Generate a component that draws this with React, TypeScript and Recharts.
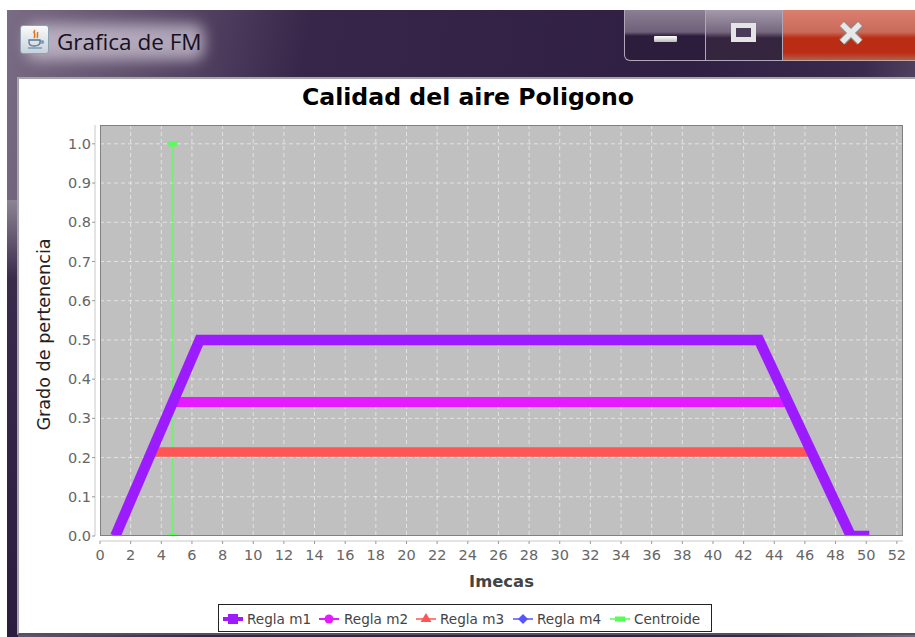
import React from 'react';
import { LineChart, Line, XAxis, YAxis, CartesianGrid, Legend } from 'recharts';

const xTicks = [0,2,4,6,8,10,12,14,16,18,20,22,24,26,28,30,32,34,36,38,40,42,44,46,48,50,52];
const yTicks = [0,0.1,0.2,0.3,0.4,0.5,0.6,0.7,0.8,0.9,1.0];
const reglaM1 = [{x:1,y:0},{x:6.5,y:0.5},{x:43,y:0.5},{x:49,y:0},{x:50.2,y:0}];
const reglaM2 = [{x:4.8,y:0.342},{x:44.9,y:0.342}];
const reglaM3 = [{x:3.4,y:0.214},{x:46.4,y:0.214}];
const reglaM4: {x:number;y:number}[] = [];
const centroide = [{x:4.75,y:0},{x:4.75,y:1}];

const PURPLE = '#9d1cff';
const MAGENTA = '#e61aff';
const RED = '#ff5555';
const BLUE = '#5555ff';
const GREEN = '#55ff55';
const SANS = '"DejaVu Sans", sans-serif';

const GreenDot = (p: any) => <rect key={p.index} x={p.cx - 4.5} y={p.cy - 2.5} width={9} height={5} fill={GREEN} />;

const legendItems = [
  { name: 'Regla m1', color: PURPLE, w: 4, iconX: 4, textX: 28, kind: 'square' },
  { name: 'Regla m2', color: MAGENTA, w: 2, iconX: 100, textX: 125, kind: 'circle' },
  { name: 'Regla m3', color: RED, w: 1.5, iconX: 197, textX: 221, kind: 'triangle' },
  { name: 'Regla m4', color: BLUE, w: 1.5, iconX: 294, textX: 318, kind: 'diamond' },
  { name: 'Centroide', color: GREEN, w: 1.5, iconX: 391, textX: 415, kind: 'rect' },
];

const LegendBox = () => (
  <svg width={494} height={28} style={{ display: 'block', background: '#fff', border: '1px solid #222', boxSizing: 'border-box' }}>
    {legendItems.map((it) => {
      const cx = it.iconX + 10, cy = 14;
      return (
        <g key={it.name}>
          <line x1={it.iconX} x2={it.iconX + 20} y1={cy} y2={cy} stroke={it.color} strokeWidth={it.w} />
          {it.kind === 'square' && <rect x={cx - 5} y={cy - 5} width={10} height={10} fill={it.color} />}
          {it.kind === 'circle' && <circle cx={cx} cy={cy} r={4.5} fill={it.color} />}
          {it.kind === 'triangle' && <polygon points={`${cx},${cy - 6} ${cx + 5.5},${cy + 3} ${cx - 5.5},${cy + 3}`} fill={it.color} />}
          {it.kind === 'diamond' && <polygon points={`${cx},${cy - 5} ${cx + 5},${cy} ${cx},${cy + 5} ${cx - 5},${cy}`} fill={it.color} />}
          {it.kind === 'rect' && <rect x={cx - 5} y={cy - 2.5} width={10} height={5} fill={it.color} />}
          <text x={it.textX} y={cy + 5} fontFamily={SANS} fontSize={13.6} fill="#444">{it.name}</text>
        </g>
      );
    })}
  </svg>
);

const abs = (l: number, t: number, w: number, h: number, extra: React.CSSProperties = {}): React.CSSProperties => ({
  position: 'absolute', left: l, top: t, width: w, height: h, ...extra,
});

const Chrome = () => (
  <>
    <div style={abs(7, 10, 908, 627, {
      background: 'linear-gradient(100deg, #7a6c84 0%, #5f4f6c 14%, #38264a 30%, #2f1f42 68%, #3a2a4c 85%, #75697f 100%)',
    })} />
    <div style={abs(7, 200, 11, 437, { background: 'linear-gradient(180deg,#8c8494 0%,#3a2a4c 18%,#2c1c40 100%)' })} />
    <div style={abs(26, 24, 178, 36, { background: 'rgba(205,198,212,0.75)', filter: 'blur(7px)', borderRadius: 10 })} />
    <div style={abs(20, 25, 29, 29, { background: 'linear-gradient(180deg,#fafafa,#c8d2dc)', border: '1px solid #8fa0b0', borderRadius: 3, boxSizing: 'border-box' })}>
      <svg width={27} height={27}>
        <path d="M14 4 C11 7 16 8 13 12 M17 6 C15 8 18 9 16 12" stroke="#e0761c" strokeWidth={1.6} fill="none" />
        <path d="M8 14 H19 V16 C19 19 16 20 13 20 C10 20 8 19 8 16 Z" fill="none" stroke="#54799a" strokeWidth={1.3} />
        <path d="M19 15 H22 V17 H19 M7 22 H21" fill="none" stroke="#54799a" strokeWidth={1.2} />
      </svg>
    </div>
    <div style={abs(57, 26, 170, 32, { fontFamily: '"Open Sans", sans-serif', fontSize: 22.5, lineHeight: '32px', color: '#16101e', whiteSpace: 'nowrap' })}>Grafica de FM</div>

    <div style={abs(624, 10, 82, 51, { background: 'linear-gradient(180deg,#8b7f94 0%,#6e6078 44%,#2d1d3d 52%,#2d1d3d 100%)', border: '1px solid #b0a8b8', borderTop: 0, borderRadius: '0 0 0 6px', boxSizing: 'border-box' })} />
    <div style={abs(706, 10, 77, 51, { background: 'linear-gradient(180deg,#a49aac 0%,#75687f 44%,#35253f 56%,#35253f 100%)', borderBottom: '1px solid #b0a8b8', borderRight: '1px solid #b0a8b8', boxSizing: 'border-box' })} />
    <div style={abs(783, 10, 132, 51, { background: 'linear-gradient(180deg,#dc7f70 0%,#c96a5a 44%,#bb2c14 56%,#bb2c14 85%,#b0604a 100%)', borderBottom: '1px solid #c0a8a8', boxSizing: 'border-box' })} />
    <div style={abs(654, 36, 23, 6, { background: 'linear-gradient(180deg,#fff,#bbb)', borderRadius: 1 })} />
    <div style={abs(731, 23, 25, 19, { border: '5px solid #e4e4e4', background: '#4a3b58', boxSizing: 'border-box' })} />
    <svg style={abs(838, 21, 26, 24)}>
      <path d="M4 3 L22 21 M22 3 L4 21" stroke="#8a8a8a" strokeWidth={8} />
      <path d="M4 3 L22 21 M22 3 L4 21" stroke="#e8e8e8" strokeWidth={5.5} />
    </svg>

    <div style={abs(17, 77, 898, 558, { background: '#fff', borderTop: '2px solid #a8a4ac', borderLeft: '2px solid #a8a4ac', borderBottom: '2px solid #55505c', boxSizing: 'border-box' })} />
    <div style={abs(100, 81, 736, 32, { textAlign: 'center', fontFamily: SANS, fontWeight: 700, fontSize: 23.6, lineHeight: '32px', color: '#000' })}>Calidad del aire Poligono</div>
  </>
);

export default function App() {
  return (
    <div style={abs(0, 0, 915, 637, { background: '#fff', overflow: 'hidden' })}>
      <style>{`.recharts-xAxis{transform:translateY(5px)} .recharts-yAxis{transform:translateX(-5px)}`}</style>
      <Chrome />
      <div style={abs(0, 0, 915, 637)}>
        <LineChart width={915} height={637} margin={{ top: 125, right: 12, bottom: 0, left: 0 }}>
          <CartesianGrid fill="#c0c0c0" stroke="#ffffff" strokeOpacity={0.55} strokeDasharray="4 3" strokeWidth={1} />
          <XAxis type="number" dataKey="x" domain={[0, 52.4]} ticks={xTicks} interval={0} height={101} allowDataOverflow
            stroke="#c8c8c8" tickSize={3} tickMargin={11}
            tick={{ fill: '#666', fontFamily: SANS, fontSize: 14.5 }} tickLine={{ stroke: '#999' }}
            label={{ value: 'Imecas', position: 'insideTop', offset: 39, fontFamily: SANS, fontWeight: 700, fontSize: 16.4, fill: '#444' }} />
          <YAxis type="number" dataKey="y" domain={[0, 1.048]} ticks={yTicks} interval={0} width={100} allowDataOverflow
            stroke="#c8c8c8" tickSize={3} tickMargin={6} tickFormatter={(v: number) => v.toFixed(1)}
            tick={{ fill: '#666', fontFamily: SANS, fontSize: 14.5 }} tickLine={{ stroke: '#999' }}
            label={{ value: 'Grado de pertenencia', angle: -90, position: 'insideLeft', offset: 44, dy: 4, textAnchor: 'middle', fontFamily: SANS, fontSize: 17.6, fontWeight: 500, fill: '#222' }} />
          <Legend layout="horizontal" verticalAlign="middle" align="center" content={<LegendBox />}
            wrapperStyle={{ position: 'absolute', left: 218, top: 604, width: 494, height: 28, bottom: 'auto', right: 'auto', margin: 0 }} />
          <Line name="Centroide" data={centroide} dataKey="y" stroke={GREEN} strokeWidth={1} dot={GreenDot} isAnimationActive={false} />
          <Line name="Regla m4" data={reglaM4} dataKey="y" stroke={BLUE} strokeWidth={10} dot={false} isAnimationActive={false} />
          <Line name="Regla m3" data={reglaM3} dataKey="y" stroke={RED} strokeWidth={9.5} dot={false} isAnimationActive={false} />
          <Line name="Regla m2" data={reglaM2} dataKey="y" stroke={MAGENTA} strokeWidth={10} dot={false} isAnimationActive={false} />
          <Line name="Regla m1" data={reglaM1} dataKey="y" stroke={PURPLE} strokeWidth={10.5} dot={false} strokeLinejoin="miter" isAnimationActive={false} />
        </LineChart>
      </div>
      <div style={abs(100, 125, 803, 411, { border: '1px solid #808080', boxSizing: 'border-box', pointerEvents: 'none' })} />
    </div>
  );
}
